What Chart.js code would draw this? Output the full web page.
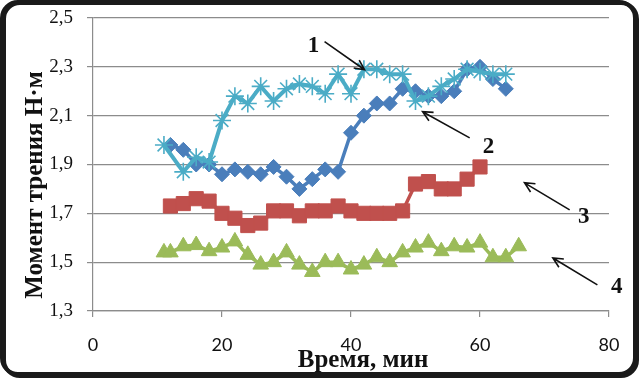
<!DOCTYPE html>
<html>
<head>
<meta charset="utf-8">
<script src="https://cdn.jsdelivr.net/npm/chart.js@4.4.0/dist/chart.umd.min.js"></script>
<style>
  html, body { margin: 0; padding: 0; background: #fff; }
  canvas { display: block; }
</style>
</head>
<body>
<canvas id="chart" width="641" height="379"></canvas>
<script>
// time, min
const time1 = [11, 14, 16, 18, 20, 22, 24, 26, 28, 30, 32, 34, 36, 38, 40, 42, 44, 46, 48, 50, 52, 54, 56, 58, 60, 62, 64];
const time2 = [12, 14, 16, 18, 20, 22, 24, 26, 28, 30, 32, 34, 36, 38, 40, 42, 44, 46, 48, 50, 52, 54, 56, 58, 60, 62, 64];
const time3 = [12, 14, 16, 18, 20, 22, 24, 26, 28, 30, 32, 34, 36, 38, 40, 42, 44, 46, 48, 50, 52, 54, 56, 58, 60];
const time4 = [11, 12, 14, 16, 18, 20, 22, 24, 26, 28, 30, 32, 34, 36, 38, 40, 42, 44, 46, 48, 50, 52, 54, 56, 58, 60, 62, 64, 66];

// friction torque, N·m
const torque1 = [1.98, 1.87, 1.93, 1.91, 2.08, 2.18, 2.15, 2.22, 2.16, 2.21, 2.23, 2.22, 2.19, 2.27, 2.19, 2.29, 2.29, 2.27, 2.27, 2.16, 2.18, 2.22, 2.25, 2.29, 2.28, 2.27, 2.27];
const torque2 = [1.98, 1.96, 1.90, 1.90, 1.86, 1.88, 1.87, 1.86, 1.89, 1.85, 1.80, 1.84, 1.88, 1.87, 2.03, 2.10, 2.15, 2.15, 2.21, 2.20, 2.18, 2.18, 2.20, 2.29, 2.30, 2.25, 2.21];
const torque3 = [1.73, 1.74, 1.76, 1.75, 1.70, 1.68, 1.65, 1.66, 1.71, 1.71, 1.69, 1.71, 1.71, 1.73, 1.71, 1.70, 1.70, 1.70, 1.71, 1.82, 1.83, 1.80, 1.80, 1.84, 1.89];
const torque4 = [1.54, 1.54, 1.565, 1.57, 1.545, 1.56, 1.585, 1.53, 1.49, 1.50, 1.54, 1.49, 1.46, 1.50, 1.50, 1.47, 1.49, 1.52, 1.50, 1.54, 1.56, 1.58, 1.545, 1.565, 1.56, 1.58, 1.52, 1.52, 1.565];

const xTicks = [0, 20, 40, 60, 80];
const yTicks = [1.3, 1.5, 1.7, 1.9, 2.1, 2.3, 2.5];

// curve labels and their arrows, in data units: label, label point, arrow tail, arrow head
const callouts = [
  { text: '1', at: [34.2, 2.386], from: [35.9, 2.403], to: [42.1, 2.288] },
  { text: '2', at: [61.3, 1.972], from: [58.4, 2.009], to: [51.1, 2.116] },
  { text: '3', at: [76.1, 1.685], from: [73.9, 1.714], to: [66.9, 1.825] },
  { text: '4', at: [81.2, 1.398], from: [78.2, 1.407], to: [71.3, 1.517] }
];

const xTitle = 'Время, мин';
const yTitle = 'Момент трения Н·м';

function points(xs, ys) {
  return xs.map((x, i) => ({ x: x, y: ys[i] }));
}

const gridColor = '#8c8c8c';

const extras = {
  id: 'extras',
  beforeDraw(chart) {
    const ctx = chart.ctx;
    ctx.save();
    ctx.fillStyle = '#fff';
    ctx.fillRect(0, 0, chart.width, chart.height);
    ctx.restore();
  },
  afterDraw(chart) {
    const ctx = chart.ctx;
    const sx = chart.scales.x, sy = chart.scales.y;
    ctx.save();

    // axis titles
    ctx.fillStyle = '#111';
    ctx.font = 'bold 25px "Liberation Serif"';
    ctx.textAlign = 'center';
    ctx.textBaseline = 'alphabetic';
    ctx.fillText(xTitle, 363, 367);
    ctx.save();
    ctx.translate(42, 185);
    ctx.rotate(-Math.PI / 2);
    ctx.fillText(yTitle, 0, 0);
    ctx.restore();

    // callouts
    ctx.font = 'bold 23px "Liberation Serif"';
    ctx.textBaseline = 'middle';
    ctx.strokeStyle = '#111';
    ctx.lineWidth = 1.6;
    callouts.forEach(c => {
      ctx.fillText(c.text, sx.getPixelForValue(c.at[0]), sy.getPixelForValue(c.at[1]));
      const x1 = sx.getPixelForValue(c.from[0]), y1 = sy.getPixelForValue(c.from[1]);
      const x2 = sx.getPixelForValue(c.to[0]), y2 = sy.getPixelForValue(c.to[1]);
      const a = Math.atan2(y2 - y1, x2 - x1);
      ctx.beginPath();
      ctx.moveTo(x1, y1);
      ctx.lineTo(x2, y2);
      ctx.moveTo(x2 - 11 * Math.cos(a - 0.45), y2 - 11 * Math.sin(a - 0.45));
      ctx.lineTo(x2, y2);
      ctx.lineTo(x2 - 11 * Math.cos(a + 0.45), y2 - 11 * Math.sin(a + 0.45));
      ctx.stroke();
    });

    // rounded frame
    ctx.strokeStyle = '#1a1a1a';
    ctx.lineWidth = 4;
    ctx.beginPath();
    ctx.roundRect(2, 2, 633, 372, 16);
    ctx.stroke();
    ctx.beginPath();
    ctx.roundRect(4, 3, 633, 373, 16);
    ctx.stroke();
    ctx.restore();
  }
};

new Chart(document.getElementById('chart'), {
  type: 'scatter',
  data: {
    datasets: [
      {
        data: points(time1, torque1), showLine: true, tension: 0,
        borderColor: '#4bacc6', borderWidth: 4,
        pointStyle: 'star', pointRadius: 9, pointBorderWidth: 1.6,
        pointBorderColor: '#4bacc6', pointBackgroundColor: '#4bacc6'
      },
      {
        data: points(time2, torque2), showLine: true, tension: 0,
        borderColor: '#4a7ebb', borderWidth: 3.5,
        pointStyle: 'rectRot', pointRadius: 7.5, pointBorderWidth: 1,
        pointBorderColor: '#4a7ebb', pointBackgroundColor: '#4a7ebb'
      },
      {
        data: points(time3, torque3), showLine: true, tension: 0,
        borderColor: '#c0504d', borderWidth: 3.5,
        pointStyle: 'rect', pointRadius: 10, pointBorderWidth: 1,
        pointBorderColor: '#c0504d', pointBackgroundColor: '#c0504d'
      },
      {
        data: points(time4, torque4), showLine: true, tension: 0,
        borderColor: '#9bbb59', borderWidth: 3.5,
        pointStyle: 'triangle', pointRadius: 9, pointBorderWidth: 1,
        pointBorderColor: '#9bbb59', pointBackgroundColor: '#9bbb59'
      }
    ]
  },
  options: {
    responsive: false,
    animation: false,
    layout: { padding: { left: 13, top: 18, right: 32, bottom: 0 } },
    plugins: { legend: { display: false }, tooltip: { enabled: false } },
    scales: {
      x: {
        type: 'linear', min: xTicks[0], max: xTicks[xTicks.length - 1],
        afterBuildTicks: s => { s.ticks = xTicks.map(v => ({ value: v })); },
        afterFit: s => { s.height = 68; },
        ticks: { padding: 17, color: '#111', font: { family: 'Lato', size: 18 } },
        grid: { drawOnChartArea: false, drawTicks: true, tickLength: 6, color: gridColor, lineWidth: 1.2 },
        border: { color: gridColor, width: 1.2 }
      },
      y: {
        type: 'linear', min: yTicks[0], max: yTicks[yTicks.length - 1],
        afterBuildTicks: s => { s.ticks = yTicks.map(v => ({ value: v })); },
        afterFit: s => { s.width = 80; s.paddingTop = 0; s.paddingBottom = 0; },
        ticks: {
          padding: 14, color: '#111', font: { family: 'Liberation Serif', size: 19 },
          callback: v => v.toFixed(1).replace('.', ',')
        },
        grid: { tickLength: 6, color: gridColor, lineWidth: 1.2 },
        border: { color: gridColor, width: 1.2 }
      }
    }
  },
  plugins: [extras]
});
</script>
</body>
</html>
